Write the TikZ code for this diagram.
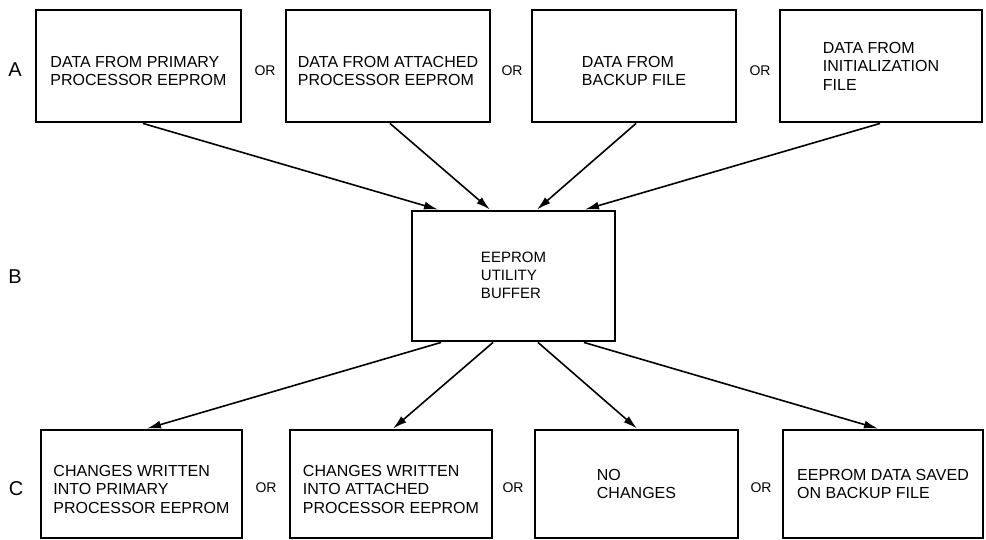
\documentclass[tikz,border=0pt]{standalone}
\usepackage{fontspec}
\setmainfont{Liberation Sans}
\usetikzlibrary{arrows.meta,calc}
\begin{document}
\begin{tikzpicture}[x=1pt,y=-1pt,
  box/.style={draw,line width=2.9pt,rectangle,inner sep=0pt},
  txt/.style={align=left,inner sep=0pt,font=\fontsize{16}{18.5}\selectfont},
  orlab/.style={font=\fontsize{14}{16}\selectfont},
  rowlab/.style={font=\fontsize{20}{22}\selectfont},
  conn/.style={line width=1.6pt,-{Latex[length=14pt,width=8pt]}}]
\useasboundingbox (0,0) rectangle (986,540);
% row A
\node[box,minimum width=205pt,minimum height=112pt] (a1) at (138.5,66) {};
\node[box,minimum width=204pt,minimum height=112pt] (a2) at (388,66) {};
\node[box,minimum width=204pt,minimum height=112pt] (a3) at (634,66) {};
\node[box,minimum width=202pt,minimum height=112pt] (a4) at (881,66) {};
\node[txt] (a1t) at ([yshift=-5pt]a1.center) {DATA FROM PRIMARY\\PROCESSOR EEPROM};
\node[txt] (a2t) at ([yshift=-5pt]a2.center) {DATA FROM ATTACHED\\PROCESSOR EEPROM};
\node[txt] (a3t) at ([yshift=-5pt]a3.center) {DATA FROM\\BACKUP FILE};
\node[txt] (a4t) at (a4.center) {DATA FROM\\INITIALIZATION\\FILE};
\node[orlab] (or1) at (265,71) {OR};
\node[orlab] (or2) at (512,71) {OR};
\node[orlab] (or3) at (760,71) {OR};
\node[rowlab] (la) at (15,70) {A};
% row B
\node[box,minimum width=203pt,minimum height=130pt] (b) at (513.5,276) {};
\node[txt,font=\fontsize{15}{18}\selectfont] (bt) at ([yshift=1pt]b.center) {EEPROM\\UTILITY\\BUFFER};
\node[rowlab] (lb) at (15,277) {B};
% row C
\node[box,minimum width=201pt,minimum height=108pt] (c1) at (141.5,484) {};
\node[box,minimum width=202pt,minimum height=108pt] (c2) at (391,484) {};
\node[box,minimum width=203pt,minimum height=108pt] (c3) at (636.5,484) {};
\node[box,minimum width=200pt,minimum height=108pt] (c4) at (883,484) {};
\node[txt] (c1t) at ([yshift=-5pt]c1.center) {CHANGES WRITTEN\\INTO PRIMARY\\PROCESSOR EEPROM};
\node[txt] (c2t) at ([yshift=-5pt]c2.center) {CHANGES WRITTEN\\INTO ATTACHED\\PROCESSOR EEPROM};
\node[txt] (c3t) at (c3.center) {NO\\CHANGES};
\node[txt] (c4t) at (c4.center) {EEPROM DATA SAVED\\ON BACKUP FILE};
\node[orlab] (or4) at (266,488) {OR};
\node[orlab] (or5) at (513,488) {OR};
\node[orlab] (or6) at (761,488) {OR};
\node[rowlab] (lc) at (16,489) {C};
% connectors
\draw[conn] ([xshift=4.5pt]a1.south) -- ([xshift=-75.5pt]b.north);
\draw[conn] ([xshift=2pt]a2.south) -- ([xshift=-23.5pt]b.north);
\draw[conn] ([xshift=2pt]a3.south) -- ([xshift=23.5pt]b.north);
\draw[conn] ([xshift=-1pt]a4.south) -- ([xshift=71.5pt]b.north);
\draw[conn] ([xshift=-72.5pt]b.south) -- ([xshift=5.5pt]c1.north);
\draw[conn] ([xshift=-20.5pt]b.south) -- ([xshift=2pt]c2.north);
\draw[conn] ([xshift=24.5pt]b.south) -- ([xshift=0.5pt]c3.north);
\draw[conn] ([xshift=70.5pt]b.south) -- ([xshift=-5pt]c4.north);
\end{tikzpicture}
\end{document}
